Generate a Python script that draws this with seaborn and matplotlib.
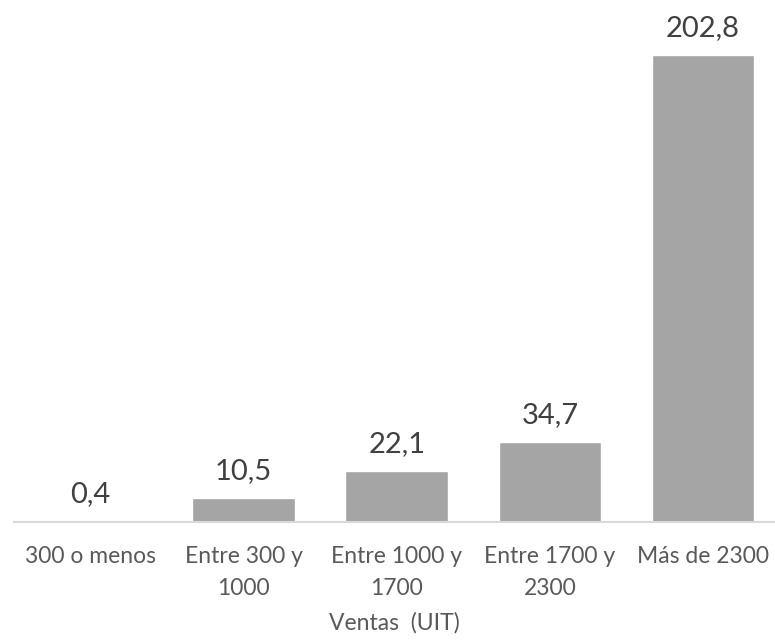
import matplotlib
matplotlib.use('Agg')
import matplotlib.pyplot as plt
import seaborn as sns
import pandas as pd

# datos
categorias = ['300 o menos', 'Entre 300 y\n1000', 'Entre 1000 y\n1700', 'Entre 1700 y\n2300', 'Más de 2300']
valores = [0.4, 10.5, 22.1, 34.7, 202.8]
etiquetas = ['0,4', '10,5', '22,1', '34,7', '202,8']

df = pd.DataFrame({'cat': categorias, 'val': valores})

sns.set_style('white')
plt.rcParams['font.family'] = ['Lato', 'DejaVu Sans']

fig = plt.figure(figsize=(7.75, 6.42), dpi=100)
ax = fig.add_axes([0.018, 0.187, 0.982, 0.807])
sns.barplot(data=df, x='cat', y='val', color='#a5a5a5', saturation=1, width=0.67, ax=ax)

ax.set_ylim(0, 225)
ax.set_xlim(-0.5, 4.47)
for i, (v, t) in enumerate(zip(valores, etiquetas)):
    ax.annotate(t, (i, v), xytext=(0, 10), textcoords='offset points',
                ha='center', va='bottom', fontsize=21, color='#404040')

for s in ['top', 'right', 'left']:
    ax.spines[s].set_visible(False)
ax.spines['bottom'].set_color('#d9d9d9')
ax.spines['bottom'].set_linewidth(1.5)
ax.set_yticks([])
ax.tick_params(axis='x', length=0, pad=17, labelsize=16.5, colors='#595959')
for lbl in ax.get_xticklabels():
    lbl.set_linespacing(1.7)
ax.set_ylabel('')
ax.set_xlabel('Ventas  (UIT)', fontsize=16.5, color='#595959', labelpad=9)

plt.savefig('out.png', dpi=100)
plt.close()
